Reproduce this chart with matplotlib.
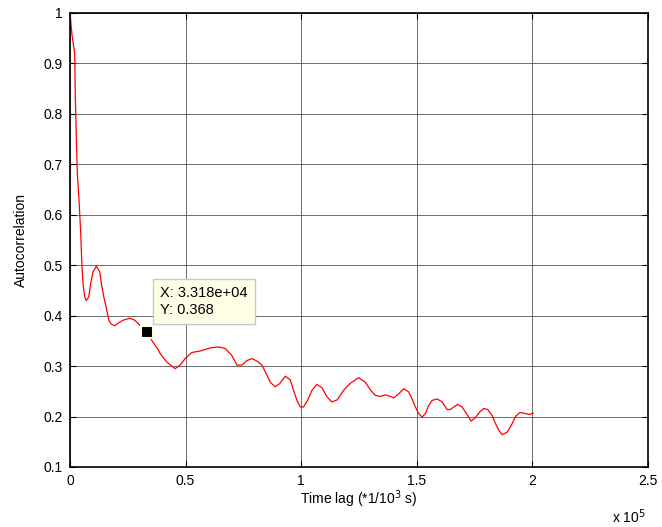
import matplotlib.pyplot as plt

plt.rcParams['font.family'] = ['Liberation Sans', 'DejaVu Sans']

# autocorrelation curve
lag = [0, 870, 2035, 2295, 2728, 3161, 3897, 4633, 4893, 5196, 5629, 6365,
       7058, 8097, 8963, 9959, 11388, 12860, 13553, 14722, 15718, 16757,
       17883, 19355, 20784, 22949, 25850, 28015, 30180, 33180, 35376, 38104,
       38970, 41871, 45465, 47630, 49795, 52696, 56290, 60620, 64214, 67115,
       70016, 72181, 74346, 76511, 78676, 80841, 83006, 84868, 86600, 88765,
       90627, 93095, 95260, 96689, 98161, 99590, 101019, 102751, 104656,
       106821, 108986, 111151, 113316, 115481, 118339, 121240, 124834, 127735,
       129900, 132065, 134230, 136395, 138560, 139989, 142154, 144319, 146484,
       147956, 149385, 150814, 152286, 153715, 155144, 156616, 158781, 160946,
       163111, 164540, 165969, 167701, 169606, 171468, 173503, 175365, 177227,
       178959, 180691, 182596, 184025, 185454, 186926, 189091, 191256, 192685,
       194547, 197015, 198879, 200350]
acf = [1.0, 0.956, 0.92, 0.833, 0.754, 0.683, 0.629, 0.565, 0.53, 0.497, 0.464, 0.437,
       0.43, 0.437, 0.464, 0.487, 0.498, 0.487, 0.464, 0.435, 0.415, 0.391,
       0.383, 0.380, 0.385, 0.391, 0.395, 0.391, 0.381, 0.368, 0.351, 0.333,
       0.325, 0.308, 0.295, 0.302, 0.315, 0.327, 0.330, 0.336, 0.338, 0.335,
       0.321, 0.302, 0.302, 0.311, 0.315, 0.310, 0.302, 0.285, 0.268, 0.259,
       0.265, 0.280, 0.273, 0.252, 0.232, 0.219, 0.219, 0.232, 0.252,
       0.264, 0.257, 0.239, 0.229, 0.233, 0.252, 0.266, 0.277, 0.268,
       0.253, 0.242, 0.240, 0.243, 0.240, 0.237, 0.245, 0.255, 0.249,
       0.235, 0.219, 0.206, 0.199, 0.206, 0.222, 0.232, 0.235, 0.229,
       0.214, 0.214, 0.219, 0.224, 0.219, 0.206, 0.191, 0.198, 0.209,
       0.216, 0.214, 0.202, 0.186, 0.173, 0.164, 0.169, 0.186, 0.200,
       0.208, 0.206, 0.204, 0.207]

tip_x = 3.318e4
tip_y = 0.368

xticks = [0, 0.5e5, 1e5, 1.5e5, 2e5, 2.5e5]
xticklabels = ['0', '0.5', '1', '1.5', '2', '2.5']
yticks = [0.1, 0.2, 0.3, 0.4, 0.5, 0.6, 0.7, 0.8, 0.9, 1.0]
yticklabels = ['0.1', '0.2', '0.3', '0.4', '0.5', '0.6', '0.7', '0.8', '0.9', '1']

fig = plt.figure(figsize=(6.62, 5.27), dpi=100)
ax = fig.add_axes([70 / 662, 1 - 467 / 527, 578 / 662, 454 / 527])

ax.plot(lag, acf, color='red', linewidth=0.9)

ax.set_xlim(0, 2.5e5)
ax.set_ylim(0.1, 1.0)
ax.set_xticks(xticks)
ax.set_xticklabels(xticklabels)
ax.set_yticks(yticks)
ax.set_yticklabels(yticklabels)
ax.tick_params(direction='in', length=4, width=0.8, labelsize=10,
               top=True, right=True, pad=5)
ax.grid(True, color='#555555', linewidth=0.6)
for s in ax.spines.values():
    s.set_linewidth(1.2)

ax.set_xlabel('Time lag (*1/10$^3$ s)', fontsize=10, labelpad=0)
ax.set_ylabel('Autocorrelation', fontsize=10, labelpad=11)
fig.text(612 / 662, 1 - 517 / 527, 'x 10$^5$', fontsize=10, ha='left', va='center')

# data tip
ax.plot([tip_x], [tip_y], marker='s', markersize=8, color='black',
        markeredgecolor='#FFFFD8', markeredgewidth=1.5, zorder=5)
ax.text(3.9e4, 0.403, 'X: 3.318e+04\nY: 0.368', fontsize=10.5,
        ha='left', va='baseline', linespacing=1.3, zorder=6,
        bbox=dict(boxstyle='square,pad=0.5', facecolor='#FFFFE6',
                  edgecolor='#C8C8C8', linewidth=1.0))

fig.savefig('out.png', dpi=100)
